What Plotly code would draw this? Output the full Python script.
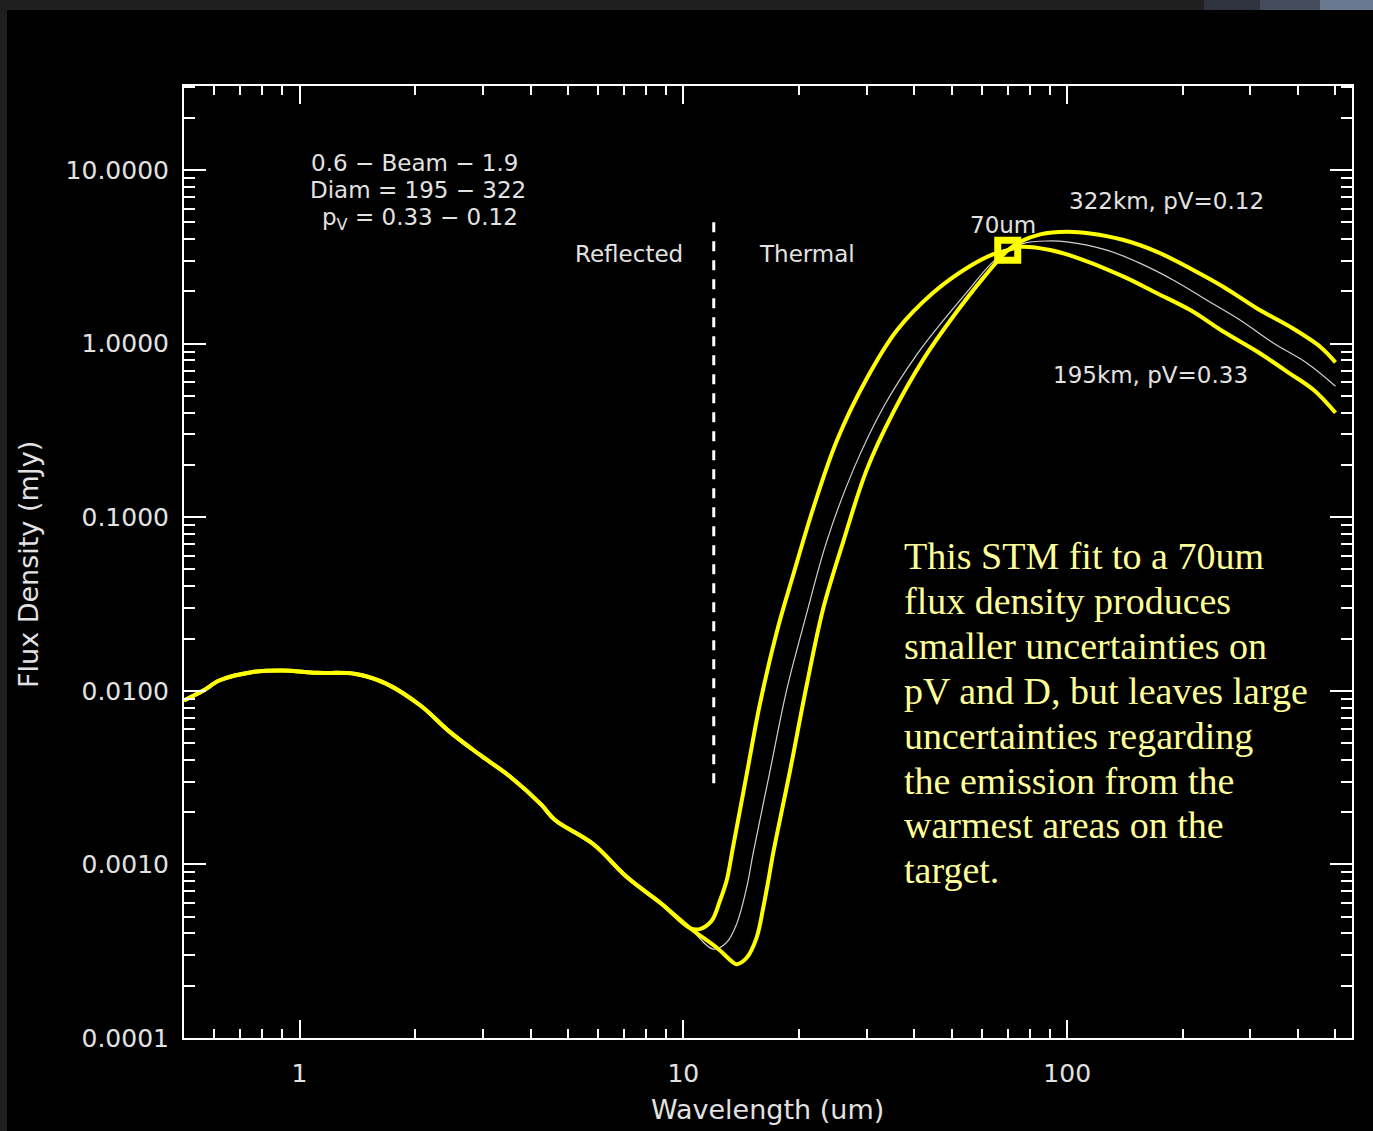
import plotly.graph_objects as go

# ---- data: wavelength in um, flux density in mJy ----

# reflected-light branch, common to all three model fits
refl_wl = [0.50, 0.56, 0.62, 0.75, 0.90, 1.11, 1.40, 1.68, 2.07, 2.44, 2.94,
           3.54, 4.27, 4.63, 5.82, 7.15, 8.80, 10.4]
refl_flux = [0.0088, 0.0100, 0.0115, 0.0128, 0.0131, 0.0127, 0.0125, 0.0110,
             0.0082, 0.0059, 0.0043, 0.0032, 0.0022, 0.0018, 0.00131, 0.00084,
             0.00059, 0.00043]

# thermal branch, 195 km / pV = 0.33 / beaming 0.6
hot_wl = [11.04, 11.85, 12.45, 12.96, 13.49, 14.62, 15.83, 17.50, 19.33, 21.81,
          25.09, 30.05, 35.97, 44.81, 55.86, 64.25, 70.0, 75.4, 90.3, 110.3,
          140.3, 171.4, 209.3, 255.6, 312.4, 381.4, 438.8, 500.0]
hot_flux = [0.000424, 0.000473, 0.000617, 0.000804, 0.00128, 0.0033, 0.0084,
            0.0217, 0.0466, 0.113, 0.275, 0.629, 1.19, 1.97, 2.80, 3.28, 3.45,
            3.61, 3.46, 3.03, 2.43, 1.95, 1.56, 1.17, 0.90, 0.67, 0.54, 0.40]

# thermal branch, 322 km / pV = 0.12 / beaming 1.9
cool_wl = [12.2, 13.49, 13.76, 14.62, 15.52, 16.15, 16.64, 17.15, 18.95, 20.96,
           23.14, 26.11, 30.05, 35.24, 42.20, 50.52, 60.51, 70.0, 75.4, 85.05,
           99.8, 114.8, 140.3, 171.4, 209.3, 255.6, 312.4, 381.4, 456.8, 500.0]
cool_flux = [0.000332, 0.000272, 0.000266, 0.000290, 0.000379, 0.000564,
             0.000803, 0.00117, 0.00344, 0.0108, 0.0298, 0.0726, 0.188, 0.403,
             0.812, 1.437, 2.40, 3.45, 3.86, 4.26, 4.41, 4.31, 3.95, 3.38, 2.71,
             2.12, 1.594, 1.248, 0.957, 0.78]

# thermal branch, intermediate fit
mid_wl = [11.96, 12.96, 13.76, 14.62, 15.21, 16.81, 18.58, 20.96, 23.63, 27.72,
          33.19, 40.56, 48.57, 55.0, 63.0, 70.0, 76.9, 88.0, 99.8, 126.9, 155.0,
          189.3, 231.3, 282.6, 345.1, 421.7, 500.0]
mid_flux = [0.000325, 0.000355, 0.000453, 0.000736, 0.00117, 0.00344, 0.0101,
            0.0280, 0.0726, 0.188, 0.430, 0.864, 1.44, 2.0, 2.85, 3.45, 3.78,
            3.9, 3.86, 3.456, 2.90, 2.32, 1.78, 1.365, 1.005, 0.771, 0.568]

# 70 um photometric point
obs_wl = [70.0]
obs_flux = [3.45]

# reflected / thermal divider
divider_wl = [12.0, 12.0]
divider_flux = [5.0, 0.0029]

x_tickvals = [1, 10, 100]
x_ticktext = ["1", "10", "100"]
y_tickvals = [1e-4, 1e-3, 1e-2, 1e-1, 1, 10]
y_ticktext = ["0.0001", "0.0010", "0.0100", "0.1000", "1.0000", "10.0000"]

note_lines = ["This STM fit to a 70um", "flux density produces",
              "smaller uncertainties on", "pV and D, but leaves large",
              "uncertainties regarding", "the emission from the",
              "warmest areas on the", "target."]

# ---- page geometry ----
W, H = 1373, 1131
ML, MR, MT, MB = 184, 21, 86, 93
PW, PH = W - ML - MR, H - MT - MB


def px(x):
    return (x - ML) / PW


def py(y):
    return 1 - (y - MT) / PH


YELLOW = "#ffff00"
INK = "#e2e2e2"
SANS = "DejaVu Sans"
CURVE = dict(shape="spline", smoothing=1.0)

fig = go.Figure()

fig.add_trace(go.Scatter(
    x=refl_wl + mid_wl, y=refl_flux + mid_flux, mode="lines",
    line=dict(color="#d0d0d0", width=1.2, **CURVE),
    hoverinfo="skip", showlegend=False))
fig.add_trace(go.Scatter(
    x=refl_wl + cool_wl, y=refl_flux + cool_flux, mode="lines",
    line=dict(color=YELLOW, width=4, **CURVE),
    showlegend=False))
fig.add_trace(go.Scatter(
    x=refl_wl + hot_wl, y=refl_flux + hot_flux, mode="lines",
    line=dict(color=YELLOW, width=4, **CURVE),
    showlegend=False))
fig.add_trace(go.Scatter(
    x=divider_wl, y=divider_flux, mode="lines",
    line=dict(color="white", width=3, dash="10px,9px"),
    showlegend=False))
fig.add_trace(go.Scatter(
    x=obs_wl, y=obs_flux, mode="markers",
    marker=dict(symbol="square-open", size=20, color=YELLOW,
                line=dict(color=YELLOW, width=7)),
    showlegend=False))


def minor_vals(lo_exp, hi_exp, lo, hi):
    vals = []
    for e in range(lo_exp, hi_exp + 1):
        for k in range(2, 10):
            v = k * 10 ** e
            if lo < v < hi:
                vals.append(v)
    return vals


axis_common = dict(
    type="log", showline=True, linecolor="white", linewidth=2,
    mirror="allticks", ticks="inside", tickcolor="white", tickwidth=2,
    showgrid=False, zeroline=False,
    tickfont=dict(family=SANS, size=25, color=INK),
)

fig.update_xaxes(
    range=[-0.30103, 2.742], tickvals=x_tickvals, ticktext=x_ticktext,
    ticklen=18, ticklabelstandoff=12,
    minor=dict(tickvals=minor_vals(-1, 2, 0.5, 552), ticklen=9, tickwidth=2,
               tickcolor="white", ticks="inside"),
    **axis_common)
fig.update_yaxes(
    range=[-4, 1.484], tickvals=y_tickvals, ticktext=y_ticktext,
    ticklen=22, ticklabelstandoff=8,
    minor=dict(tickvals=minor_vals(-4, 1, 1e-4, 30.5), ticklen=11, tickwidth=2,
               tickcolor="white", ticks="inside"),
    **axis_common)

ann = []


def label(text, x, y, size=23, color=INK, family=SANS, xanchor="center",
          angle=0):
    ann.append(dict(text=text, x=px(x), y=py(y), xref="paper", yref="paper",
                    xanchor=xanchor, yanchor="middle", showarrow=False,
                    textangle=angle,
                    font=dict(family=family, size=size, color=color)))


label("0.6 − Beam − 1.9", 414, 163)
label("Diam = 195 − 322", 418, 190)
label("p<sub>V</sub> = 0.33 − 0.12", 420, 219)
label("Reflected", 629, 254)
label("Thermal", 807, 254)
label("70um", 1003, 225)
label("322km, pV=0.12", 1166, 201)
label("195km, pV=0.33", 1150, 375)
label("Wavelength (um)", 767, 1109, size=27)
label("Flux Density (mJy)", 28, 565, size=27, angle=-90)

for i, line in enumerate(note_lines):
    label(line, 902, 556 + i * 44.9, size=38, color="#ffff99",
          family="Liberation Serif", xanchor="left")

# window chrome around the figure
shapes = [
    dict(type="rect", xref="paper", yref="paper", x0=px(0), x1=px(W),
         y0=py(10), y1=py(0), fillcolor="#1f1f1f", line_width=0, layer="below"),
    dict(type="rect", xref="paper", yref="paper", x0=px(0), x1=px(7),
         y0=py(H), y1=py(0), fillcolor="#1f1f1f", line_width=0, layer="below"),
    dict(type="rect", xref="paper", yref="paper", x0=px(1204), x1=px(1260),
         y0=py(10), y1=py(0), fillcolor="#2e333d", line_width=0, layer="below"),
    dict(type="rect", xref="paper", yref="paper", x0=px(1260), x1=px(1320),
         y0=py(10), y1=py(0), fillcolor="#454d5c", line_width=0, layer="below"),
    dict(type="rect", xref="paper", yref="paper", x0=px(1320), x1=px(W),
         y0=py(10), y1=py(0), fillcolor="#6a7890", line_width=0, layer="below"),
]

fig.update_layout(
    width=W, height=H,
    margin=dict(l=ML, r=MR, t=MT, b=MB, pad=0),
    paper_bgcolor="black", plot_bgcolor="black",
    annotations=ann, shapes=shapes, showlegend=False,
)

fig.write_html("out.html")
